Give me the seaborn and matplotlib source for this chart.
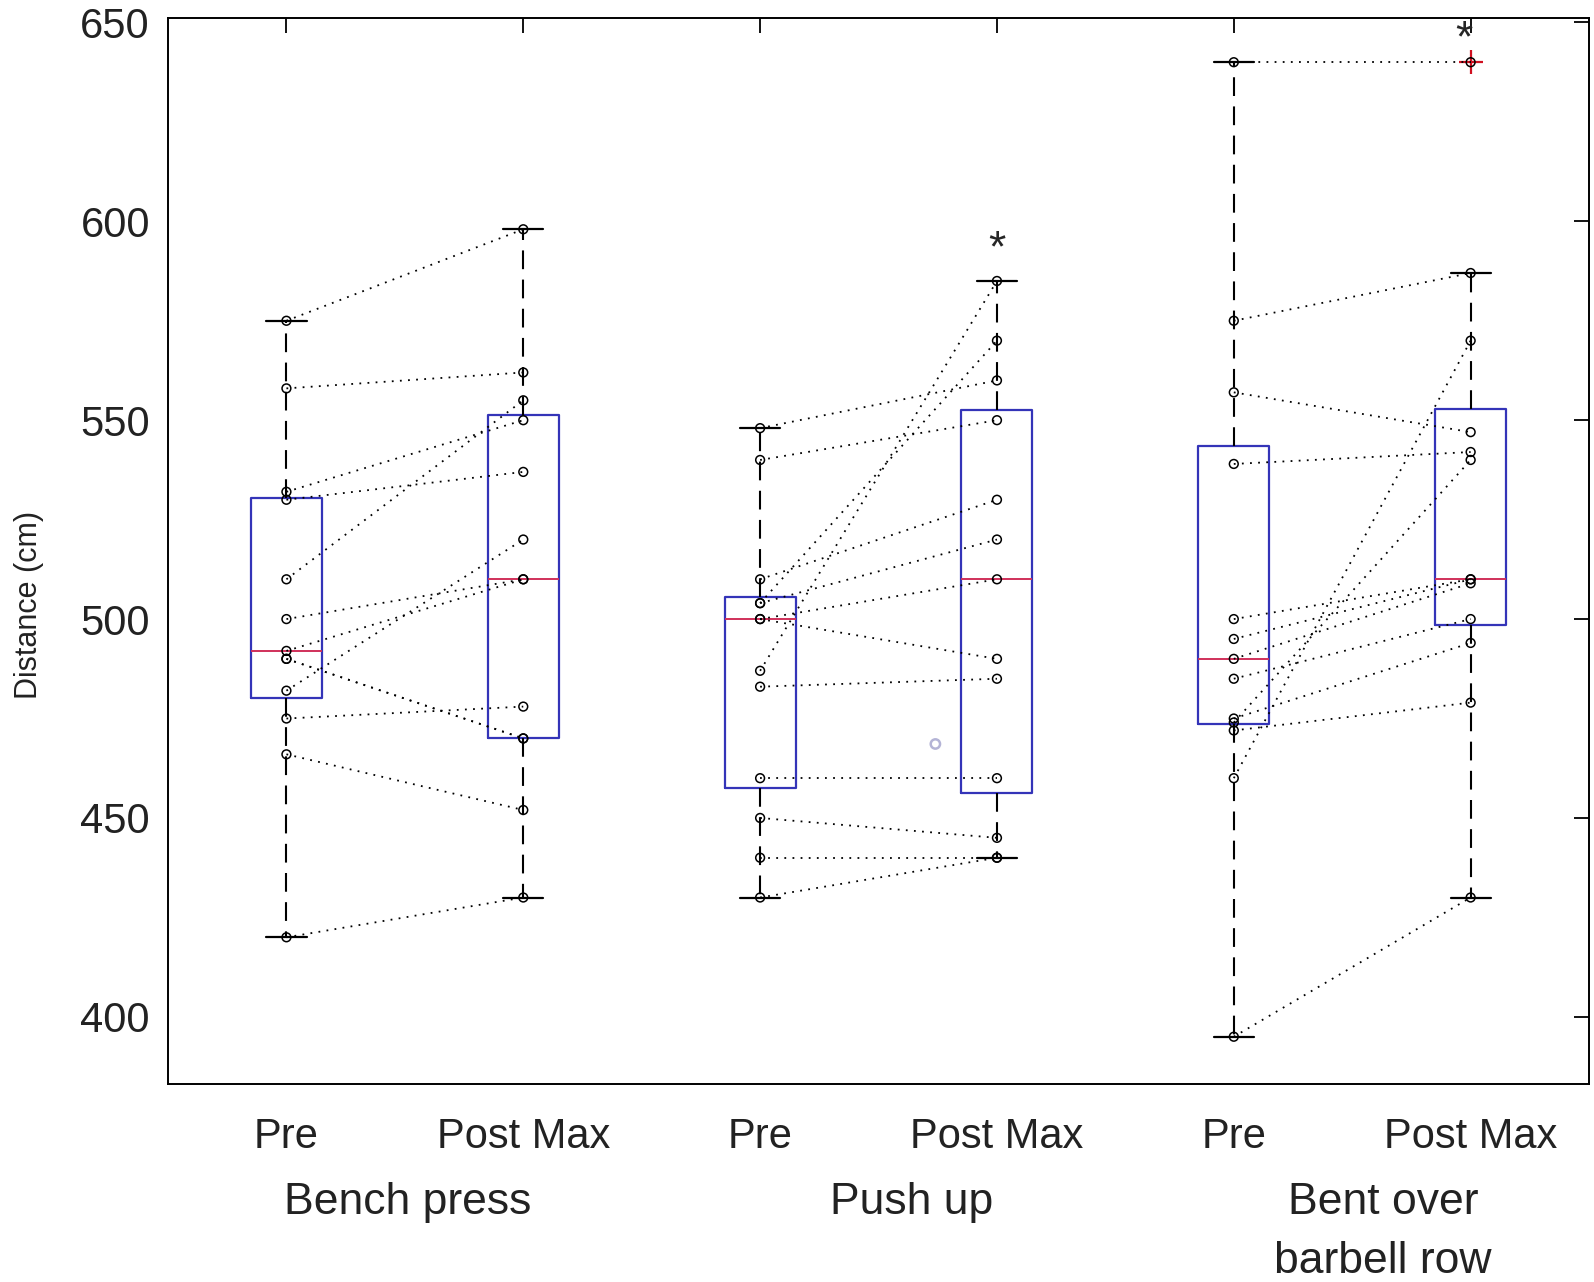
import numpy as np
import pandas as pd
import seaborn as sns
import matplotlib.pyplot as plt
from matplotlib import font_manager
from matplotlib.transforms import blended_transform_factory

# paired values, one entry per subject (pre[i] -> post[i])
bench_pre = [575, 558, 532, 530, 510, 500, 492, 490, 490, 482, 475, 466, 420]
bench_post = [598, 562, 550, 537, 555, 510, 510, 470, 470, 520, 478, 452, 430]
push_pre = [548, 540, 510, 504, 504, 500, 500, 487, 483, 460, 450, 440, 430]
push_post = [560, 550, 530, 570, 520, 510, 490, 585, 485, 460, 445, 440, 440]
row_pre = [640, 575, 557, 539, 500, 495, 490, 485, 475, 474, 472, 460, 395]
row_post = [640, 587, 547, 542, 510, 510, 509, 500, 494, 540, 479, 570, 430]

exercises = ['Bench press', 'Push up', 'Bent over\nbarbell row']
phases = ['Pre', 'Post Max']
tick_labels = ['Pre', 'Post Max', 'Pre', 'Post Max', 'Pre', 'Post Max']
group_label_x = [1.51, 3.64, 5.63]

# asterisks (significance) and the faint stray circle in the original
star_x = [4.0, 5.97]
star_y = [592.8, 645.6]
stray_x = [3.74]
stray_y = [468.6]

series = [bench_pre, bench_post, push_pre, push_post, row_pre, row_post]

rows = []
for g, ex in enumerate(exercises):
    for p, ph in enumerate(phases):
        vals = series[2 * g + p]
        for i, v in enumerate(vals):
            rows.append({'exercise': ex, 'phase': ph, 'pos': 2 * g + p + 1,
                         'pair': f'{g}_{i}', 'value': v})
df = pd.DataFrame(rows)

sns.set_style('white')
plt.rcParams['font.family'] = ['Liberation Sans', 'DejaVu Sans']

# the y label in the original is drawn narrow
names = {f.name for f in font_manager.fontManager.ttflist}
if 'Liberation Sans Narrow' in names:
    ylab_font = dict(family='Liberation Sans Narrow', fontsize=26)
else:
    ylab_font = dict(fontsize=22)

fig = plt.figure(figsize=(15.94, 12.82), dpi=100)
ax = fig.add_axes([0.1054, 0.1544, 0.8915, 0.8312])

# box stats computed the MATLAB way (midpoint percentiles, 1.5 IQR whiskers)
stats = []
for pos, d in df.groupby('pos'):
    v = np.sort(d['value'].to_numpy())
    q1, med, q3 = np.percentile(v, [25, 50, 75], method='hazen')
    iqr = q3 - q1
    inside = v[(v >= q1 - 1.5 * iqr) & (v <= q3 + 1.5 * iqr)]
    stats.append({'med': med, 'q1': q1, 'q3': q3,
                  'whislo': inside.min(), 'whishi': inside.max(),
                  'fliers': v[(v < q1 - 1.5 * iqr) | (v > q3 + 1.5 * iqr)]})

ax.bxp(stats, positions=range(1, 7), widths=0.3, capwidths=0.17,
       manage_ticks=False,
       boxprops=dict(color='#3434b8', lw=1.6),
       whiskerprops=dict(color='black', lw=1.5, linestyle=(0, (9, 5))),
       capprops=dict(color='black', lw=1.6),
       medianprops=dict(color='#d0305a', lw=1.4),
       flierprops=dict(marker='+', markeredgecolor='#d01020', markersize=17,
                       markeredgewidth=1.6))

sns.lineplot(data=df, x='pos', y='value', units='pair', estimator=None,
             color='black', lw=1.3, linestyle=(0, (1, 3.5)), ax=ax,
             legend=False, zorder=3)
sns.scatterplot(data=df, x='pos', y='value', marker='o', s=40,
                facecolors='none', edgecolor='black', linewidth=1.1,
                ax=ax, legend=False, zorder=4)
ax.scatter(stray_x, stray_y, s=45, facecolors='none', edgecolors='#b4b4d6',
           linewidths=1.8, zorder=2)

for x, y in zip(star_x, star_y):
    ax.text(x, y, '*', ha='center', va='center', fontsize=32)

ax.set_xlim(0.5, 6.5)
ax.set_ylim(383.1, 651)
ax.set_xticks(range(1, 7), tick_labels)
ax.set_yticks([400, 450, 500, 550, 600, 650])
ax.tick_params(direction='in', top=True, right=True, length=11, width=1.3,
               labelsize=30, colors='black')
ax.tick_params(axis='x', pad=24, labelcolor='#222222')
ax.tick_params(axis='y', pad=13, labelcolor='#222222')
for s in ax.spines.values():
    s.set_color('black')
    s.set_linewidth(1.4)

ax.set_xlabel('')
ax.set_ylabel('Distance (cm)', color='#222222', **ylab_font)
ax.yaxis.set_label_coords(-0.087, 0.45)

trans = blended_transform_factory(ax.transData, ax.transAxes)
for x, lab in zip(group_label_x, exercises):
    ax.text(x, -0.092, lab, transform=trans, ha='center', va='top',
            fontsize=32, color='#222222', linespacing=1.55)

fig.savefig('out.png', dpi=100)
